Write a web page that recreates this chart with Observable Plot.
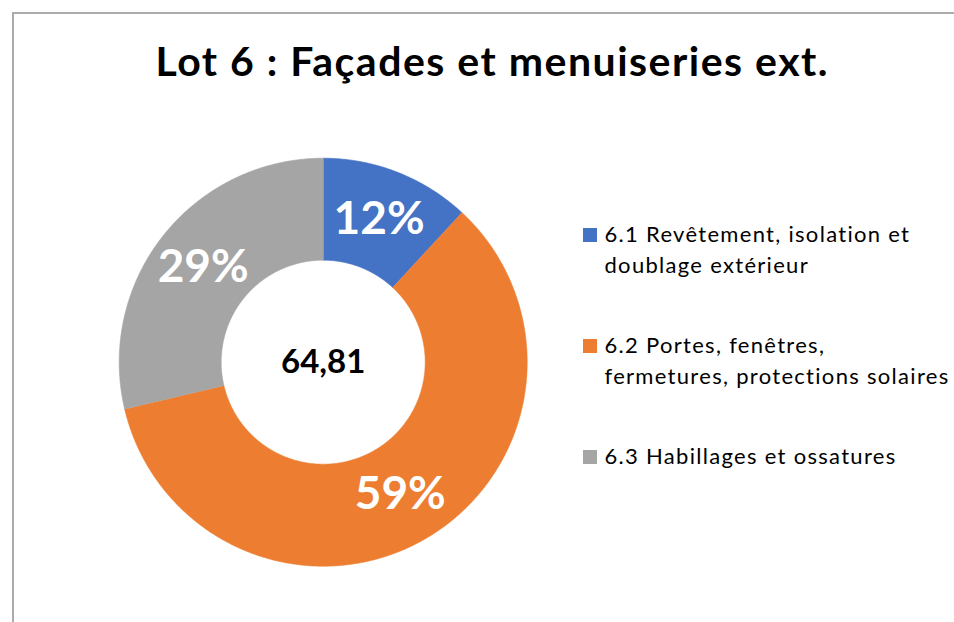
<!DOCTYPE html>
<html>
<head>
<meta charset="utf-8">
<script src="https://cdn.jsdelivr.net/npm/d3@7"></script>
<script src="https://cdn.jsdelivr.net/npm/@observablehq/plot@0.6"></script>
<style>
  html, body { margin: 0; padding: 0; background: #fff; }
  body { width: 954px; height: 622px; position: relative; overflow: hidden; font-family: Lato, "Open Sans", sans-serif; }
  #frame { position: absolute; left: 12px; top: 12px; width: 1000px; height: 700px; border-top: 2px solid #ababab; border-left: 2px solid #ababab; box-sizing: border-box; }
  #chart { position: absolute; left: 0; top: 0; }
  #title { position: absolute; left: 0; top: 36.3px; width: 983px; padding-left: 1.5px; box-sizing: border-box; text-align: center; font-weight: 700; font-size: 41px; line-height: 49px; letter-spacing: 1.5px; color: #000; white-space: nowrap; }
  .item { position: absolute; left: 583px; font-size: 22px; line-height: 31px; letter-spacing: 1.3px; color: #000; }
  .item .sw { position: absolute; left: 0; width: 14px; height: 14px; }
  .item .txt { position: absolute; left: 21.5px; white-space: nowrap; }
</style>
</head>
<body>
<div id="frame"></div>
<div id="chart"></div>
<div id="title"></div>
<div id="legend"></div>
<script>
// ---- data ----
const title = "Lot 6 : Façades et menuiseries ext.";
const categories = [
  "6.1 Revêtement, isolation et doublage extérieur",
  "6.2 Portes, fenêtres, fermetures, protections solaires",
  "6.3 Habillages et ossatures"
];
const values = [7.71, 38.50, 18.60];
const colors = ["#4472C4", "#ED7D31", "#A5A5A5"];
const legendLines = [
  ["6.1 Revêtement, isolation et", "doublage extérieur"],
  ["6.2 Portes, fenêtres,", "fermetures, protections solaires"],
  ["6.3 Habillages et ossatures"]
];

// ---- geometry (polar, unit radius) ----
const cx = 322.7, cy = 361.7, R = 204;
const rOuter = 1, rInner = 0.5, rLabel = 0.75;
const origin = {x: 0, y: 0};
const total = d3.sum(values);

let acc = 0;
const slices = categories.map((cat, i) => {
  const a0 = acc / total;
  acc += values[i];
  return {cat, value: values[i], a0, a1: acc / total};
});

const pt = (f, r) => ({x: r * Math.sin(2 * Math.PI * f), y: r * Math.cos(2 * Math.PI * f)});
const points = [];
for (const s of slices) {
  const n = Math.max(2, Math.ceil((s.a1 - s.a0) * 720));
  for (let k = 0; k <= n; k++) points.push({cat: s.cat, ...pt(s.a0 + (s.a1 - s.a0) * k / n, rOuter)});
  for (let k = n; k >= 0; k--) points.push({cat: s.cat, ...pt(s.a0 + (s.a1 - s.a0) * k / n, rInner)});
}
const labels = slices.map(s => ({
  cat: s.cat,
  text: Math.round(s.value / total * 100) + "%",
  ...pt((s.a0 + s.a1) / 2, rLabel)
}));
const centerLabel = [{...origin, text: total.toFixed(2).replace(".", ",")}];

const plot = Plot.plot({
  width: 954,
  height: 622,
  margin: 0,
  x: {domain: [-1, 1], range: [cx - R, cx + R], axis: null},
  y: {domain: [-1, 1], range: [cy + R, cy - R], axis: null},
  color: {domain: categories, range: colors},
  style: {background: "transparent", overflow: "visible"},
  marks: [
    Plot.line(points, {x: "x", y: "y", z: "cat", fill: "cat", stroke: "cat", strokeWidth: 0.6, curve: "linear"}),
    Plot.text(labels, {x: "x", y: "y", text: "text", fill: "white", fontSize: 46, fontWeight: "bold", fontFamily: "Lato", textAnchor: "middle", lineAnchor: "middle"}),
    Plot.text(centerLabel, {x: "x", y: "y", text: "text", fill: "black", fontSize: 33, fontWeight: "bold", fontFamily: "Lato", textAnchor: "middle", lineAnchor: "middle"})
  ]
});
document.getElementById("chart").appendChild(plot);
document.getElementById("title").textContent = title;

// legend (HTML, colours from the plot's colour scale)
const colorScale = plot.scale("color");
const tops = [217.7, 329.3, 440.0];
const legend = document.getElementById("legend");
categories.forEach((cat, i) => {
  const item = document.createElement("div");
  item.className = "item";
  item.style.top = tops[i] + "px";
  const sw = document.createElement("div");
  sw.className = "sw";
  sw.style.top = "10px";
  sw.style.background = colorScale.apply(cat);
  const txt = document.createElement("div");
  txt.className = "txt";
  txt.innerHTML = legendLines[i].map(l => l.replace(/&/g, "&amp;")).join("<br>");
  item.appendChild(sw);
  item.appendChild(txt);
  legend.appendChild(item);
});
</script>
</body>
</html>
